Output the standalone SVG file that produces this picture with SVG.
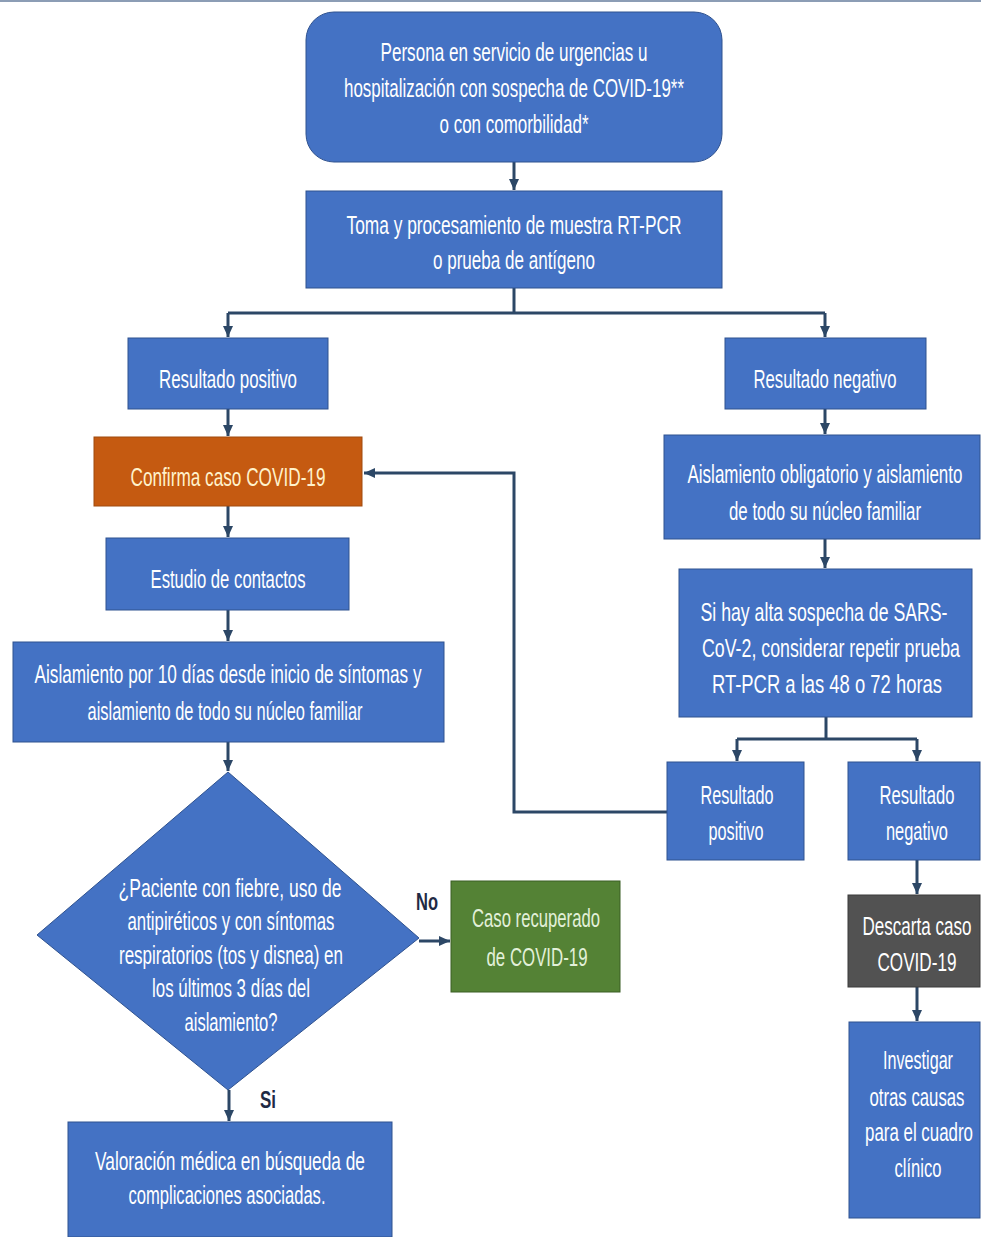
<svg xmlns="http://www.w3.org/2000/svg" width="981" height="1237" viewBox="0 0 981 1237">
<defs>
<style>
.box{fill:#4472C4;stroke:#2F528F;stroke-width:1}
.t{font-family:"Liberation Sans Narrow","Liberation Sans",Arial,sans-serif;font-size:25px;fill:#FFFFFF;text-anchor:middle}
.lbl{font-family:"Liberation Sans Narrow","Liberation Sans",Arial,sans-serif;font-size:23px;fill:#1F2A44;text-anchor:middle;font-weight:bold}
.c{fill:none;stroke:#2C4766;stroke-width:3}
</style>
<marker id="ah" markerUnits="userSpaceOnUse" markerWidth="12" markerHeight="12" refX="11" refY="6" orient="auto">
<path d="M0,1 L11,6 L0,11 z" fill="#2C4766"/>
</marker>
</defs>
<rect width="981" height="1237" fill="#FFFFFF"/>
<line x1="0" y1="1" x2="981" y2="1" stroke="#8C9DB5" stroke-width="2"/>

<g id="connectors">
<path class="c" d="M514,162 V190" marker-end="url(#ah)"/>
<path class="c" d="M514,288 V313"/>
<path class="c" d="M228,313 H825"/>
<path class="c" d="M228,313 V337" marker-end="url(#ah)"/>
<path class="c" d="M825,313 V337" marker-end="url(#ah)"/>
<path class="c" d="M228,409 V436" marker-end="url(#ah)"/>
<path class="c" d="M228,506 V537" marker-end="url(#ah)"/>
<path class="c" d="M228,610 V641" marker-end="url(#ah)"/>
<path class="c" d="M228,742 V771" marker-end="url(#ah)"/>
<path class="c" d="M229,1090 V1121" marker-end="url(#ah)"/>
<path class="c" d="M419,941 H450" marker-end="url(#ah)"/>
<path class="c" d="M825,409 V434" marker-end="url(#ah)"/>
<path class="c" d="M825,539 V568" marker-end="url(#ah)"/>
<path class="c" d="M826,717 V739"/>
<path class="c" d="M737,739 H917"/>
<path class="c" d="M737,739 V761" marker-end="url(#ah)"/>
<path class="c" d="M917,739 V761" marker-end="url(#ah)"/>
<path class="c" d="M667,812 H514 V473 H364" marker-end="url(#ah)"/>
<path class="c" d="M917,860 V894" marker-end="url(#ah)"/>
<path class="c" d="M917,987 V1021" marker-end="url(#ah)"/>
</g>

<g id="n-persona">
<rect class="box" x="306" y="12" width="416" height="150" rx="28"/>
<text class="t" x="514" y="61" textLength="267" lengthAdjust="spacingAndGlyphs">Persona en servicio de urgencias u</text>
<text class="t" x="514" y="97" textLength="340" lengthAdjust="spacingAndGlyphs">hospitalización con sospecha de COVID-19**</text>
<text class="t" x="514" y="133" textLength="149" lengthAdjust="spacingAndGlyphs">o con comorbilidad*</text>
</g>

<g id="n-toma">
<rect class="box" x="306" y="191" width="416" height="97"/>
<text class="t" x="514" y="234" textLength="335" lengthAdjust="spacingAndGlyphs">Toma y procesamiento de muestra RT-PCR</text>
<text class="t" x="514" y="269" textLength="162" lengthAdjust="spacingAndGlyphs">o prueba de antígeno</text>
</g>

<g id="n-positivo">
<rect class="box" x="128" y="338" width="200" height="71"/>
<text class="t" x="228" y="388" textLength="138" lengthAdjust="spacingAndGlyphs">Resultado positivo</text>
</g>

<g id="n-confirma">
<rect x="94" y="437" width="268" height="69" fill="#C55A11" stroke="#A04A0E" stroke-width="1"/>
<text class="t" x="228" y="486" textLength="195" lengthAdjust="spacingAndGlyphs" style="fill:#FFF2CC">Confirma caso COVID-19</text>
</g>

<g id="n-estudio">
<rect class="box" x="106" y="538" width="243" height="72"/>
<text class="t" x="228" y="588" textLength="155" lengthAdjust="spacingAndGlyphs">Estudio de contactos</text>
</g>

<g id="n-aislamiento10">
<rect class="box" x="13" y="642" width="431" height="100"/>
<text class="t" x="228" y="683" textLength="387" lengthAdjust="spacingAndGlyphs">Aislamiento por 10 días desde inicio de síntomas y</text>
<text class="t" x="225" y="720" textLength="275" lengthAdjust="spacingAndGlyphs">aislamiento de todo su núcleo familiar</text>
</g>

<g id="n-pregunta">
<polygon points="228,772 419,938 228,1090 37,935" fill="#4472C4" stroke="#2F528F" stroke-width="1"/>
<text class="t" x="230" y="897" textLength="223" lengthAdjust="spacingAndGlyphs">¿Paciente con fiebre, uso de</text>
<text class="t" x="231" y="930" textLength="207" lengthAdjust="spacingAndGlyphs">antipiréticos y con síntomas</text>
<text class="t" x="231" y="964" textLength="224" lengthAdjust="spacingAndGlyphs">respiratorios (tos y disnea) en</text>
<text class="t" x="231" y="997" textLength="158" lengthAdjust="spacingAndGlyphs">los últimos 3 días del</text>
<text class="t" x="231" y="1031" textLength="93" lengthAdjust="spacingAndGlyphs">aislamiento?</text>
</g>

<text class="lbl" x="427" y="910" textLength="22" lengthAdjust="spacingAndGlyphs">No</text>
<text class="lbl" x="268" y="1108" textLength="16" lengthAdjust="spacingAndGlyphs">Si</text>

<g id="n-recuperado">
<rect x="451" y="881" width="169" height="111" fill="#548235" stroke="#3B5E25" stroke-width="1"/>
<text class="t" x="536" y="927" textLength="128" lengthAdjust="spacingAndGlyphs" style="fill:#E2F0D9">Caso recuperado</text>
<text class="t" x="537" y="966" textLength="101" lengthAdjust="spacingAndGlyphs" style="fill:#E2F0D9">de COVID-19</text>
</g>

<g id="n-valoracion">
<rect class="box" x="68" y="1122" width="324" height="115"/>
<text class="t" x="230" y="1170" textLength="270" lengthAdjust="spacingAndGlyphs">Valoración médica en búsqueda de</text>
<text class="t" x="227" y="1204" textLength="197" lengthAdjust="spacingAndGlyphs">complicaciones asociadas.</text>
</g>

<g id="n-negativo">
<rect class="box" x="725" y="338" width="201" height="71"/>
<text class="t" x="825" y="388" textLength="143" lengthAdjust="spacingAndGlyphs">Resultado negativo</text>
</g>

<g id="n-aislamiento-oblig">
<rect class="box" x="664" y="435" width="316" height="104"/>
<text class="t" x="825" y="483" textLength="275" lengthAdjust="spacingAndGlyphs">Aislamiento obligatorio y aislamiento</text>
<text class="t" x="825" y="520" textLength="192" lengthAdjust="spacingAndGlyphs">de todo su núcleo familiar</text>
</g>

<g id="n-sospecha">
<rect class="box" x="679" y="569" width="293" height="148"/>
<text class="t" x="824" y="621" textLength="247" lengthAdjust="spacingAndGlyphs">Si hay alta sospecha de SARS-</text>
<text class="t" x="831" y="657" textLength="258" lengthAdjust="spacingAndGlyphs">CoV-2, considerar repetir prueba</text>
<text class="t" x="827" y="693" textLength="230" lengthAdjust="spacingAndGlyphs">RT-PCR a las 48 o 72 horas</text>
</g>

<g id="n-positivo2">
<rect class="box" x="667" y="762" width="137" height="98"/>
<text class="t" x="737" y="804" textLength="73" lengthAdjust="spacingAndGlyphs">Resultado</text>
<text class="t" x="736" y="840" textLength="55" lengthAdjust="spacingAndGlyphs">positivo</text>
</g>

<g id="n-negativo2">
<rect class="box" x="848" y="762" width="132" height="98"/>
<text class="t" x="917" y="804" textLength="75" lengthAdjust="spacingAndGlyphs">Resultado</text>
<text class="t" x="917" y="840" textLength="62" lengthAdjust="spacingAndGlyphs">negativo</text>
</g>

<g id="n-descarta">
<rect x="848" y="895" width="132" height="92" fill="#525252" stroke="#3A3A3A" stroke-width="1"/>
<text class="t" x="917" y="935" textLength="109" lengthAdjust="spacingAndGlyphs">Descarta caso</text>
<text class="t" x="917" y="971" textLength="79" lengthAdjust="spacingAndGlyphs">COVID-19</text>
</g>

<g id="n-investigar">
<rect class="box" x="849" y="1022" width="131" height="196"/>
<text class="t" x="918" y="1069" textLength="70" lengthAdjust="spacingAndGlyphs">Investigar</text>
<text class="t" x="917" y="1106" textLength="95" lengthAdjust="spacingAndGlyphs">otras causas</text>
<text class="t" x="919" y="1141" textLength="108" lengthAdjust="spacingAndGlyphs">para el cuadro</text>
<text class="t" x="918" y="1177" textLength="47" lengthAdjust="spacingAndGlyphs">clínico</text>
</g>
</svg>
